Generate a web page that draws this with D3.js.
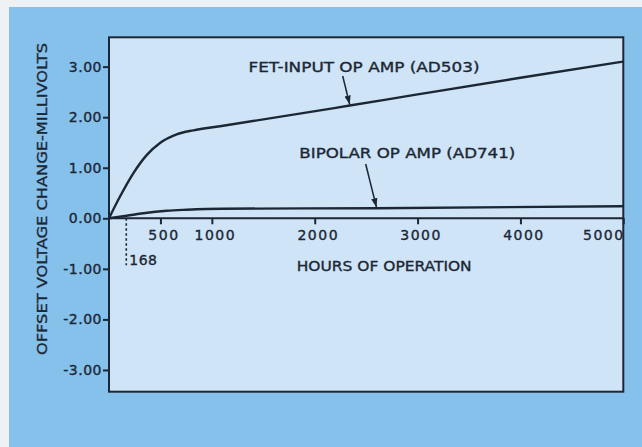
<!DOCTYPE html>
<html>
<head>
<meta charset="utf-8">
<script src="https://cdn.jsdelivr.net/npm/d3@7"></script>
<style>
  html, body { margin: 0; padding: 0; background: #eef1f3; }
  svg { display: block; }
  text { font-family: "DejaVu Sans", sans-serif; fill: #1c2735; stroke: #1c2735; stroke-width: 0.35px; }
</style>
</head>
<body>
<svg id="chart" width="642" height="447"></svg>
<script>
// ---- data ----
const xTicks = [500, 1000, 2000, 3000, 4000, 5000];
const xTickLabels = ["500", "1000", "2000", "3000", "4000", "5000"];
const yTicks = [3, 2, 1, 0, -1, -2, -3];
const yTickLabels = ["3.00", "2.00", "1.00", "0.00", "-1.00", "-2.00", "-3.00"];

const fetHours  = [0, 107, 236, 366, 496, 658, 820, 1079, 2340, 3000, 4000, 5000];
const fetValues = [0, 0.43, 0.89, 1.25, 1.49, 1.66, 1.74, 1.82, 2.23, 2.45, 2.78, 3.10];

const bipolarHours  = [0, 172, 333, 561, 755, 1100, 2600, 5000];
const bipolarValues = [0, 0.05, 0.10, 0.15, 0.17, 0.19, 0.20, 0.24];

const burnInHours = 168;
const burnInLabel = "168";
const xTitle = "HOURS OF OPERATION";
const yTitle = "OFFSET VOLTAGE CHANGE-MILLIVOLTS";
const fetLabel = "FET-INPUT OP AMP (AD503)";
const bipolarLabel = "BIPOLAR OP AMP (AD741)";

// ---- drawing ----
(function () {
const svg = d3.select("#chart");
const ink = "#1c2735";

svg.append("rect").attr("x", 0).attr("y", 0).attr("width", 642).attr("height", 447).attr("fill", "#eef1f3");
svg.append("rect").attr("x", 9).attr("y", 7).attr("width", 633).attr("height", 440).attr("fill", "#86c1ec");

const pLeft = 109, pRight = 623.3, pTop = 37.3, pBottom = 391.7;
const x = d3.scaleLinear().domain([0, 5000]).range([pLeft, pRight]);
const y = d3.scaleLinear().domain([-3.43, 3.58]).range([pBottom, pTop]);

svg.append("rect")
  .attr("x", pLeft).attr("y", pTop)
  .attr("width", pRight - pLeft).attr("height", pBottom - pTop)
  .attr("fill", "#cfe4f6").attr("stroke", ink).attr("stroke-width", 2);

// y axis (ticks outward on the left edge)
const yAxis = d3.axisLeft(y).tickValues(yTicks).tickSize(6).tickPadding(1)
  .tickFormat((d, i) => yTickLabels[i]);
const gy = svg.append("g").attr("transform", `translate(${pLeft},0)`).call(yAxis);
gy.select(".domain").remove();
gy.selectAll("line").attr("stroke", ink).attr("stroke-width", 2);
gy.selectAll("text").attr("font-size", 14).attr("fill", ink).style("letter-spacing", "0.5px")
  .attr("font-family", "DejaVu Sans");

// zero line with x ticks hanging below
svg.append("line").attr("x1", pLeft).attr("x2", pRight)
  .attr("y1", y(0)).attr("y2", y(0)).attr("stroke", ink).attr("stroke-width", 2);
const xAxis = d3.axisBottom(x).tickValues(xTicks).tickSize(6).tickPadding(6)
  .tickFormat((d, i) => xTickLabels[i]);
const gx = svg.append("g").attr("transform", `translate(0,${y(0)})`).call(xAxis);
gx.select(".domain").remove();
gx.selectAll("line").attr("stroke", ink).attr("stroke-width", 2);
gx.selectAll("text").attr("font-size", 14).attr("fill", ink).style("letter-spacing", "1.5px")
  .attr("font-family", "DejaVu Sans")
  .attr("dx", (d) => d === 5000 ? -20 : 3);

// burn-in marker
svg.append("line").attr("x1", x(burnInHours)).attr("x2", x(burnInHours))
  .attr("y1", y(0)).attr("y2", y(0) + 47)
  .attr("stroke", ink).attr("stroke-width", 1.6).attr("stroke-dasharray", "2.5,2.5");
svg.append("text").attr("x", x(burnInHours) + 3).attr("y", y(0) + 47)
  .attr("font-size", 14).style("letter-spacing", "0.5px").text(burnInLabel);

// axis titles
svg.append("text").attr("x", (296.7 + 471.7) / 2).attr("y", 271)
  .attr("text-anchor", "middle").attr("font-size", 14)
  .attr("textLength", 175).attr("lengthAdjust", "spacingAndGlyphs").text(xTitle);
svg.append("text").attr("transform", "translate(47,199) rotate(-90)")
  .attr("text-anchor", "middle").attr("font-size", 14)
  .attr("textLength", 312).attr("lengthAdjust", "spacingAndGlyphs").text(yTitle);

// curves
const line = d3.line().x(d => x(d[0])).y(d => y(d[1])).curve(d3.curveMonotoneX);
svg.append("path").datum(d3.zip(fetHours, fetValues))
  .attr("d", line).attr("fill", "none").attr("stroke", ink).attr("stroke-width", 2.4);
svg.append("path").datum(d3.zip(bipolarHours, bipolarValues))
  .attr("d", line).attr("fill", "none").attr("stroke", ink).attr("stroke-width", 2.4);

// annotations with arrows
svg.append("defs").append("marker")
  .attr("id", "arrow").attr("viewBox", "0 0 10 10").attr("refX", 10).attr("refY", 5)
  .attr("markerWidth", 6).attr("markerHeight", 6).attr("orient", "auto")
  .append("path").attr("d", "M0,1.5 L10,5 L0,8.5 Z").attr("fill", ink);

svg.append("text").attr("x", 248.5).attr("y", 71.5).attr("font-size", 14)
  .attr("textLength", 231).attr("lengthAdjust", "spacingAndGlyphs").text(fetLabel);
svg.append("line").attr("x1", 342.7).attr("y1", 76)
  .attr("x2", x(2340)).attr("y2", y(2.23) - 1)
  .attr("stroke", ink).attr("stroke-width", 1.5).attr("marker-end", "url(#arrow)");

svg.append("text").attr("x", 299.3).attr("y", 158).attr("font-size", 14)
  .attr("textLength", 216).attr("lengthAdjust", "spacingAndGlyphs").text(bipolarLabel);
svg.append("line").attr("x1", 365.7).attr("y1", 164)
  .attr("x2", x(2600)).attr("y2", y(0.20) - 1)
  .attr("stroke", ink).attr("stroke-width", 1.5).attr("marker-end", "url(#arrow)");
})();
</script>
</body>
</html>
